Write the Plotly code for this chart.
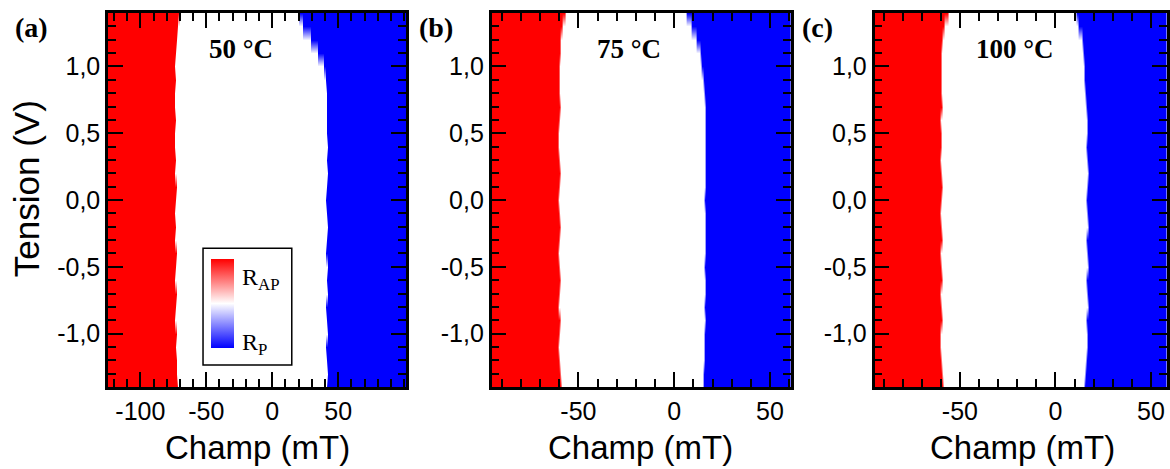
import numpy as np
import plotly.graph_objects as go

# ---------------- data ----------------
# Voltage rows (V), bottom to top
voltage = [-1.4, -1.3, -1.2, -1.1, -1.0, -0.9, -0.8, -0.7, -0.6, -0.5,
           -0.4, -0.3, -0.2, -0.1, 0.0, 0.1, 0.2, 0.3, 0.4, 0.5,
           0.6, 0.7, 0.8, 0.9, 1.0, 1.1, 1.2, 1.3, 1.4]

# Switching fields (mT): R_AP (red) for H < edge_ap, R_P (blue) for H > edge_p
edge_ap_50 = [-71.5, -72.0, -72.5, -73.0, -72.5, -73.5, -73.0, -72.5, -73.5, -73.0,
              -72.5, -73.5, -73.0, -73.5, -73.0, -72.5, -73.5, -73.0, -73.5, -73.5,
              -73.0, -73.5, -73.5, -73.0, -73.5, -73.0, -72.5, -71.5, -70.0]
edge_p_50 = [41.0, 41.5, 41.0, 40.5, 41.5, 41.0, 40.5, 41.5, 41.0, 41.5,
             40.5, 41.0, 41.5, 41.0, 40.5, 41.0, 41.5, 41.0, 41.5, 41.0,
             41.0, 41.0, 41.0, 40.0, 38.5, 34.5, 28.5, 22.5, 19.5]

edge_ap_75 = [-59.0, -59.5, -60.0, -60.5, -60.0, -59.5, -60.5, -60.0, -59.5, -60.0,
              -60.5, -60.0, -59.5, -60.0, -60.5, -60.0, -59.5, -60.0, -60.5, -60.5,
              -60.0, -59.5, -60.0, -60.0, -60.0, -59.5, -59.5, -58.5, -57.0]
edge_p_75 = [14.8, 15.0, 15.6, 15.6, 15.6, 16.0, 15.5, 16.2, 16.0, 15.5,
             16.0, 16.2, 15.8, 16.0, 15.5, 16.0, 16.2, 15.8, 16.0, 16.2,
             16.0, 15.8, 15.5, 15.0, 14.2, 13.4, 11.3, 9.0, 6.3]

edge_ap_100 = [-59.0, -59.5, -60.0, -60.5, -60.4, -59.5, -60.0, -60.5, -59.5, -60.0,
               -60.5, -59.5, -60.0, -60.5, -60.0, -59.5, -60.0, -60.5, -60.0, -60.0,
               -60.5, -59.5, -60.0, -60.0, -60.0, -60.0, -59.5, -58.5, -56.6]
edge_p_100 = [15.0, 15.5, 16.0, 16.6, 16.6, 16.0, 17.0, 16.5, 16.0, 16.8,
              16.5, 16.0, 17.0, 16.5, 16.0, 16.5, 17.0, 16.5, 16.0, 16.6,
              16.5, 16.0, 15.7, 15.2, 14.8, 14.5, 14.0, 12.2, 10.4]

temperatures = ["50 °C", "75 °C", "100 °C"]
panel_letters = ["(a)", "(b)", "(c)"]

x_ranges = [[-124.5, 101.5], [-95.3, 61.0], [-94.7, 58.4]]
x_tickvals = [[-100, -50, 0, 50], [-50, 0, 50], [-50, 0, 50]]
x_ticktext = [["-100", "-50", "0", "50"], ["-50", "0", "50"], ["-50", "0", "50"]]
y_tickvals = [-1.0, -0.5, 0.0, 0.5, 1.0]
y_ticktext = ["-1,0", "-0,5", "0,0", "0,5", "1,0"]

x_title = "Champ (mT)"
y_title = "Tension (V)"

edges = [(edge_ap_50, edge_p_50), (edge_ap_75, edge_p_75), (edge_ap_100, edge_p_100)]

# ---------------- figure ----------------
W, H = 1170, 469
ML, MR, MT, MB = 108, 0, 13, 82
PW, PH = W - ML - MR, H - MT - MB

def px(xp):
    return (xp - ML) / PW

def py(yp):
    return (H - MB - yp) / PH

domains = [[0.0, px(407)], [px(492.7), px(793)], [px(876.7), 1.0]]

fig = go.Figure()

for i, (ap, p) in enumerate(edges):
    grid = np.arange(x_ranges[i][0] - 3, x_ranges[i][1] + 3, 0.5)
    z = []
    for L, R in zip(ap, p):
        z.append([1.0 if f < L else (-1.0 if f > R else 0.0) for f in grid])
    n = "" if i == 0 else str(i + 1)
    fig.add_trace(go.Heatmap(
        x=grid, y=voltage, z=z, coloraxis="coloraxis", zsmooth="best",
        xaxis="x" + n, yaxis="y" + n, hoverinfo="skip"))

tickfont = dict(family="Liberation Sans, Arial, sans-serif", size=25, color="black")
for i in range(3):
    n = "" if i == 0 else str(i + 1)
    fig.layout["xaxis" + n] = dict(
        domain=domains[i], anchor="y" + n, range=x_ranges[i],
        tickmode="array", tickvals=x_tickvals[i], ticktext=x_ticktext[i],
        ticks="inside", ticklen=15, tickwidth=2, tickcolor="black",
        minor=dict(ticks="inside", ticklen=8, tickwidth=2, tickcolor="black",
                   dtick=10, tick0=0, showgrid=False),
        showline=True, linewidth=2.5, linecolor="black", mirror="allticks",
        showgrid=False, zeroline=False, tickfont=tickfont)
    fig.layout["yaxis" + n] = dict(
        domain=[0, 1], anchor="x" + n, range=[-1.4, 1.4],
        tickmode="array", tickvals=y_tickvals, ticktext=y_ticktext,
        ticks="inside", ticklen=15, tickwidth=2, tickcolor="black",
        minor=dict(ticks="inside", ticklen=8, tickwidth=2, tickcolor="black",
                   dtick=0.1, tick0=0, showgrid=False),
        showline=True, linewidth=2.5, linecolor="black", mirror="allticks",
        showgrid=False, zeroline=False, tickfont=tickfont)

fig.update_layout(
    width=W, height=H,
    margin=dict(l=ML, r=MR, t=MT, b=MB),
    paper_bgcolor="white", plot_bgcolor="white",
    showlegend=False,
    coloraxis=dict(
        cmin=-1, cmax=1,
        colorscale=[[0.0, "#0000ff"], [0.5, "#ffffff"], [1.0, "#ff0000"]],
        colorbar=dict(
            x=px(211.7), xanchor="left", y=py(303.8), yanchor="middle",
            thickness=23, thicknessmode="pixels", len=89, lenmode="pixels",
            xpad=0, ypad=0, outlinewidth=0, showticklabels=False, ticks="",
            bgcolor="rgba(0,0,0,0)")),
)

# legend box
fig.add_shape(type="rect", xref="paper", yref="paper",
              x0=px(203.3), x1=px(292.3), y0=py(365), y1=py(248.3),
              line=dict(color="black", width=1.5), layer="above")

serif = "Liberation Serif, Times New Roman, serif"
sans = "Liberation Sans, Arial, sans-serif"
ann = []
ann.append(dict(text="R<sub>AP</sub>", x=px(240), y=py(279), xanchor="left", yanchor="middle",
                font=dict(family=serif, size=24, color="black")))
ann.append(dict(text="R<sub>P</sub>", x=px(240), y=py(344), xanchor="left", yanchor="middle",
                font=dict(family=serif, size=24, color="black")))

letter_x = [31.5, 436.5, 819.5]
temp_x = [241, 630, 1018]
title_x = [257.5, 642, 1025]
for i in range(3):
    ann.append(dict(text="<b>%s</b>" % panel_letters[i], x=px(letter_x[i]), y=py(27.5),
                    xanchor="center", yanchor="middle",
                    font=dict(family=serif, size=28, color="black")))
    ann.append(dict(text="<b>%s</b>" % temperatures[i], x=px(temp_x[i]), y=py(49),
                    xanchor="center", yanchor="middle",
                    font=dict(family=serif, size=27, color="black")))
    ann.append(dict(text=x_title, x=px(title_x[i]), y=py(447),
                    xanchor="center", yanchor="middle",
                    font=dict(family=sans, size=33, color="black")))
ann.append(dict(text=y_title, x=px(26), y=py(189), textangle=-90,
                xanchor="center", yanchor="middle",
                font=dict(family=sans, size=35, color="black")))
for a in ann:
    a.update(xref="paper", yref="paper", showarrow=False)
fig.update_layout(annotations=ann)

fig.write_html("out.html", config={"displayModeBar": False},
               post_script="document.body.style.margin='0';document.body.style.overflow='hidden';")
